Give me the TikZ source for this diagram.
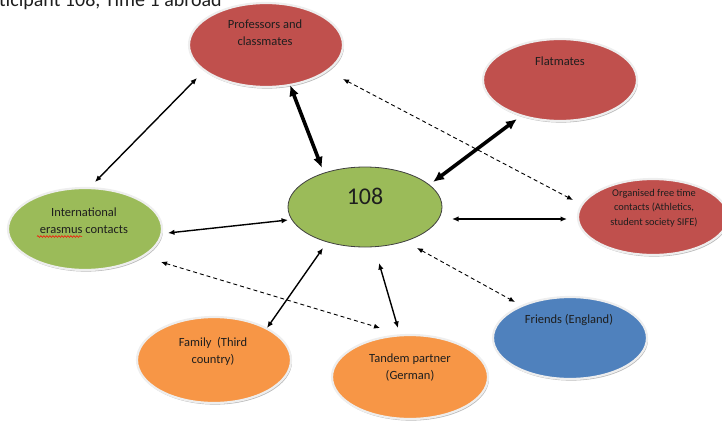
\documentclass[tikz,border=0pt]{standalone}
\usepackage{fontspec}
\setmainfont{Carlito}
\usetikzlibrary{shapes.geometric,arrows.meta,decorations.pathmorphing,shadows}
\definecolor{cred}{HTML}{C0504D}
\definecolor{cgreen}{HTML}{9BBB59}
\definecolor{corange}{HTML}{F79646}
\definecolor{cblue}{HTML}{4F81BD}
\definecolor{rimc}{HTML}{EEEEEE}
\definecolor{txtc}{HTML}{1E1E1E}
\begin{document}
\begin{tikzpicture}[x=1pt,y=-1pt,
  bubble/.style={ellipse,inner sep=0pt,draw=rimc,line width=2.2pt,fill=#1,
    drop shadow={shadow xshift=1pt,shadow yshift=-1.6pt,fill=gray!80,opacity=0.7}},
  lbl/.style={font=\fontsize{12.5}{17}\selectfont,align=center,inner sep=0pt,text=txtc,anchor=north},
  small/.style={font=\fontsize{10.4}{14.3}\selectfont},
  thin/.style={line width=1.4pt,{Latex[length=6.5pt,width=5.5pt]}-{Latex[length=6.5pt,width=5.5pt]}},
  thick/.style={line width=3.6pt,{Latex[length=11pt,width=10pt]}-{Latex[length=11pt,width=10pt]}},
  dsh/.style={line width=0.9pt,dash pattern=on 4pt off 3pt,{Latex[length=6pt,width=5pt]}-{Latex[length=6pt,width=5pt]}}
]
\useasboundingbox (0,0) rectangle (722,420);
\clip (0,0) rectangle (722,420);

% title
\node[anchor=base west,inner sep=0pt,font=\fontsize{20}{24}\selectfont,text=txtc] (title) at (-1,7) {ticipant 108, Time 1 abroad};

% bubbles
\node[bubble=cred,minimum width=154pt,minimum height=84pt] (prof) at (266,45) {};
\node[bubble=cred,minimum width=154pt,minimum height=82pt] (flat) at (560,80) {};
\node[ellipse,inner sep=0pt,draw=black!75,line width=0.8pt,fill=cgreen,minimum width=154pt,minimum height=80pt] (c108) at (365,207) {};
\node[bubble=cgreen,minimum width=154pt,minimum height=82pt] (intl) at (85,229) {};
\node[bubble=cred,minimum width=150pt,minimum height=76pt] (org) at (653,217) {};
\node[bubble=corange,minimum width=154pt,minimum height=86pt] (fam) at (214,360) {};
\node[bubble=corange,minimum width=156pt,minimum height=84pt] (tan) at (410,377) {};
\node[bubble=cblue,minimum width=154pt,minimum height=82pt] (fri) at (570,338) {};

% labels
\node[lbl] (tprof) at (265,20) {Professors and\\classmates};
\node[lbl] (tflat) at (560,57) {Flatmates};
\node[lbl,font=\fontsize{24}{28}\selectfont] (t108) at (365,188) {108};
\node[lbl] (tintl) at (84,208) {International\\erasmus contacts};
\node[lbl,small] (torg) at (654,189) {Organised free time\\contacts (Athletics,\\student society SIFE)};
\node[lbl] (tfam) at (213,337) {Family\ \ (Third\\country)};
\node[lbl] (ttan) at (410,354) {Tandem partner\\(German)};
\node[lbl] (tfri) at (569,314) {Friends (England)};
\draw[red,line width=0.5pt,decorate,decoration={snake,amplitude=0.9pt,segment length=3pt}] (37,236.5) -- (82,236.5);

% connector ends
\coordinate (a1s) at (197,78);  \coordinate (a1e) at (95,182);
\coordinate (a2s) at (290,85);  \coordinate (a2e) at (322,168);
\coordinate (a3s) at (343,79);  \coordinate (a3e) at (573,200);
\coordinate (a4s) at (433,182); \coordinate (a4e) at (517,119);
\coordinate (a5s) at (168,233); \coordinate (a5e) at (288,220);
\coordinate (a6s) at (452,219); \coordinate (a6e) at (567,219);
\coordinate (a7s) at (161,262); \coordinate (a7e) at (380,328);
\coordinate (a8s) at (323,248); \coordinate (a8e) at (267,328);
\coordinate (a9s) at (379,263); \coordinate (a9e) at (398,328);
\coordinate (a10s) at (417,248); \coordinate (a10e) at (515,302);

% connectors
\draw[thin] (a1s) -- (a1e);
\draw[thick] (a2s) -- (a2e);
\draw[dsh] (a3s) -- (a3e);
\draw[thick] (a4s) -- (a4e);
\draw[thin] (a5s) -- (a5e);
\draw[thin] (a6s) -- (a6e);
\draw[dsh] (a7s) -- (a7e);
\draw[thin] (a8s) -- (a8e);
\draw[thin] (a9s) -- (a9e);
\draw[dsh] (a10s) -- (a10e);
\end{tikzpicture}
\end{document}
